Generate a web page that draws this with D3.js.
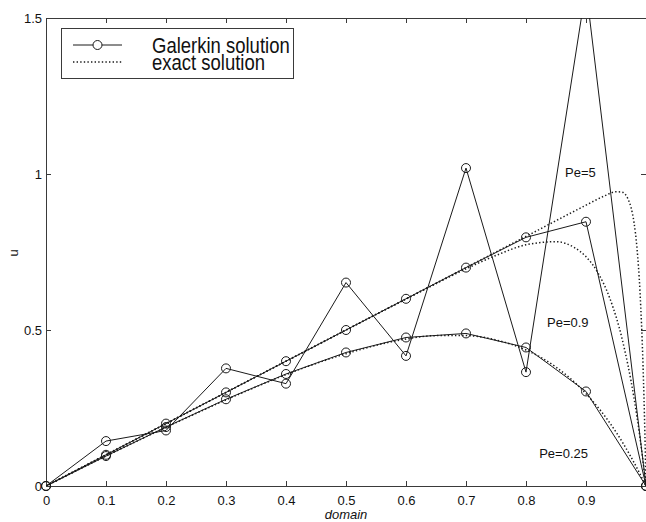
<!DOCTYPE html>
<html lang="en">
<head>
<meta charset="UTF-8">
<script src="https://d3js.org/d3.v7.min.js"></script>
<style>
    body { margin: 0; background: #fff; }
    svg { display: block; font-family: "Liberation Sans", Arial, sans-serif; }
</style>
<title>Galerkin vs exact</title>
</head>
<body>
<script>

    // grid nodes (h = 0.1) and the Galerkin values
    var nodes = [0, 0.1, 0.2, 0.3, 0.4, 0.5, 0.6, 0.7, 0.8, 0.9, 1];
    var galerkinPe025 = [0, 0.096, 0.189, 0.278, 0.359, 0.428, 0.476, 0.489, 0.444, 0.303, 0];
    var galerkinPe09 = [0, 0.1, 0.2, 0.3, 0.4, 0.5, 0.6, 0.7, 0.797, 0.847, 0];
    var galerkinPe5 = [0, 0.144, 0.178, 0.377, 0.328, 0.652, 0.417, 1.019, 0.365, 1.596, 0];

    // exact solutions (dotted)
    var exactXPe025 = [0, 0.1, 0.2, 0.3, 0.4, 0.5, 0.6, 0.65, 0.7, 0.75, 0.8, 0.85, 0.9, 0.95, 0.975, 1];
    var exactPe025 = [0, 0.096, 0.188, 0.276, 0.357, 0.424, 0.471, 0.482, 0.482, 0.468, 0.436, 0.381, 0.296, 0.173, 0.093, 0];
    var exactXPe09 = [0, 0.2, 0.4, 0.6, 0.7, 0.75, 0.8, 0.85, 0.88, 0.9, 0.92, 0.94, 0.96, 0.98, 0.99, 1];
    var exactPe09 = [0, 0.2, 0.4, 0.599, 0.696, 0.739, 0.773, 0.783, 0.765, 0.735, 0.683, 0.6, 0.473, 0.282, 0.155, 0];
    var exactXPe5 = [0, 0.2, 0.4, 0.6, 0.8, 0.9, 0.93, 0.95, 0.96, 0.97, 0.975, 0.98, 0.985, 0.99, 0.995, 0.998, 1];
    var exactPe5 = [0, 0.2, 0.4, 0.6, 0.8, 0.9, 0.929, 0.943, 0.942, 0.92, 0.893, 0.845, 0.762, 0.622, 0.389, 0.179, 0];

    var xTicks = [0, 0.1, 0.2, 0.3, 0.4, 0.5, 0.6, 0.7, 0.8, 0.9, 1];
    // the "1" label falls off the right edge of the figure
    var xTickLabels = ["0", "0.1", "0.2", "0.3", "0.4", "0.5", "0.6", "0.7", "0.8", "0.9", ""];
    var yTicks = [0, 0.5, 1, 1.5];
    var yTickLabels = ["0", "0.5", "1", "1.5"];

    var legendLabels = ["Galerkin solution", "exact solution"];
    var peLabels = ["Pe=5", "Pe=0.9", "Pe=0.25"];
    var peLabelX = [0.865, 0.835, 0.822];
    var peLabelY = [0.99, 0.51, 0.09];

    var width = 646;
    var height = 522;
    var plotLeft = 46, plotRight = 646, plotTop = 18, plotBottom = 486;
    var ink = "#1a1a1a";
    var frame = "#3a3a3a";

    var x = d3.scaleLinear().domain([0, 1]).range([plotLeft, plotRight]);
    var y = d3.scaleLinear().domain([0, 1.5]).range([plotBottom, plotTop]);

    var svg = d3.select("body").append("svg")
        .attr("width", width)
        .attr("height", height);

    svg.append("defs").append("clipPath")
        .attr("id", "plotClip")
        .append("rect")
        .attr("x", plotLeft)
        .attr("y", plotTop)
        .attr("width", plotRight - plotLeft)
        .attr("height", plotBottom - plotTop);

    // axes - matlab style box, ticks inside
    function styleAxis(g) {
        g.selectAll(".domain").attr("stroke", frame).attr("stroke-width", 1);
        g.selectAll(".tick line").attr("stroke", frame);
        g.selectAll(".tick text").attr("fill", "#111").attr("font-size", "13px");
    }

    svg.append("g")
        .attr("transform", "translate(0," + plotBottom + ")")
        .call(d3.axisBottom(x).tickValues(xTicks)
            .tickFormat(function (d, i) { return xTickLabels[i]; })
            .tickSizeInner(-5).tickSizeOuter(0).tickPadding(10))
        .call(styleAxis);

    svg.append("g")
        .attr("transform", "translate(0," + plotTop + ")")
        .call(d3.axisTop(x).tickValues(xTicks).tickFormat("")
            .tickSizeInner(-5).tickSizeOuter(0))
        .call(styleAxis);

    svg.append("g")
        .attr("transform", "translate(" + plotLeft + ",0)")
        .call(d3.axisLeft(y).tickValues(yTicks)
            .tickFormat(function (d, i) { return yTickLabels[i]; })
            .tickSizeInner(-5).tickSizeOuter(0).tickPadding(4))
        .call(styleAxis);

    svg.append("g")
        .attr("transform", "translate(" + plotRight + ",0)")
        .call(d3.axisRight(y).tickValues(yTicks).tickFormat("")
            .tickSizeInner(-5).tickSizeOuter(0))
        .call(styleAxis);

    svg.append("text")
        .attr("x", (plotLeft + plotRight) / 2)
        .attr("y", 519)
        .attr("text-anchor", "middle")
        .attr("font-size", "13px")
        .attr("font-style", "italic")
        .attr("fill", "#111")
        .text("domain");

    svg.append("text")
        .attr("transform", "translate(18," + ((plotTop + plotBottom) / 2 + 1) + ") rotate(-90)")
        .attr("text-anchor", "middle")
        .attr("font-size", "13px")
        .attr("fill", "#111")
        .text("u");

    var plot = svg.append("g");
    var clipped = plot.append("g").attr("clip-path", "url(#plotClip)");

    var line = d3.line()
        .x(function (d) { return x(d[0]); })
        .y(function (d) { return y(d[1]); });

    var smooth = d3.line()
        .x(function (d) { return x(d[0]); })
        .y(function (d) { return y(d[1]); })
        .curve(d3.curveMonotoneX);

    var exactSets = [
        d3.zip(exactXPe025, exactPe025),
        d3.zip(exactXPe09, exactPe09),
        d3.zip(exactXPe5, exactPe5)
    ];

    clipped.selectAll("path.exact")
        .data(exactSets)
        .enter()
        .append("path")
        .attr("class", "exact")
        .attr("d", smooth)
        .attr("fill", "none")
        .attr("stroke", ink)
        .attr("stroke-width", 1.5)
        .attr("stroke-dasharray", "1.4,2.2");

    var galerkinSets = [
        d3.zip(nodes, galerkinPe025),
        d3.zip(nodes, galerkinPe09),
        d3.zip(nodes, galerkinPe5)
    ];

    clipped.selectAll("path.galerkin")
        .data(galerkinSets)
        .enter()
        .append("path")
        .attr("class", "galerkin")
        .attr("d", line)
        .attr("fill", "none")
        .attr("stroke", ink)
        .attr("stroke-width", 1);

    // markers: only points inside the y limits are drawn
    galerkinSets.forEach(function (set) {
        plot.append("g").selectAll("circle")
            .data(set.filter(function (d) { return d[1] <= 1.5; }))
            .enter()
            .append("circle")
            .attr("cx", function (d) { return x(d[0]); })
            .attr("cy", function (d) { return y(d[1]); })
            .attr("r", 4.5)
            .attr("fill", "none")
            .attr("stroke", ink)
            .attr("stroke-width", 1);
    });

    plot.selectAll("text.pe")
        .data(peLabels)
        .enter()
        .append("text")
        .attr("class", "pe")
        .attr("x", function (d, i) { return x(peLabelX[i]); })
        .attr("y", function (d, i) { return y(peLabelY[i]); })
        .attr("font-size", "13px")
        .attr("fill", "#111")
        .text(function (d) { return d; });

    // legend
    var legend = svg.append("g");
    legend.append("rect")
        .attr("x", 61.5)
        .attr("y", 28.5)
        .attr("width", 232)
        .attr("height", 50)
        .attr("fill", "#fff")
        .attr("stroke", frame)
        .attr("stroke-width", 1);

    legend.append("line")
        .attr("x1", 73).attr("x2", 122)
        .attr("y1", 45).attr("y2", 45)
        .attr("stroke", ink).attr("stroke-width", 1);
    legend.append("circle")
        .attr("cx", 97.5).attr("cy", 45).attr("r", 4.5)
        .attr("fill", "#fff").attr("stroke", ink).attr("stroke-width", 1);
    legend.append("line")
        .attr("x1", 73).attr("x2", 122)
        .attr("y1", 62).attr("y2", 62)
        .attr("stroke", ink).attr("stroke-width", 1.5)
        .attr("stroke-dasharray", "1.4,2.2");

    legend.selectAll("text")
        .data(legendLabels)
        .enter()
        .append("text")
        .attr("transform", function (d, i) {
            return "translate(152," + (53 + i * 17) + ") scale(1,1.15)";
        })
        .attr("font-size", "18.5px")
        .attr("fill", "#111")
        .text(function (d) { return d; });

</script>
</body>
</html>
